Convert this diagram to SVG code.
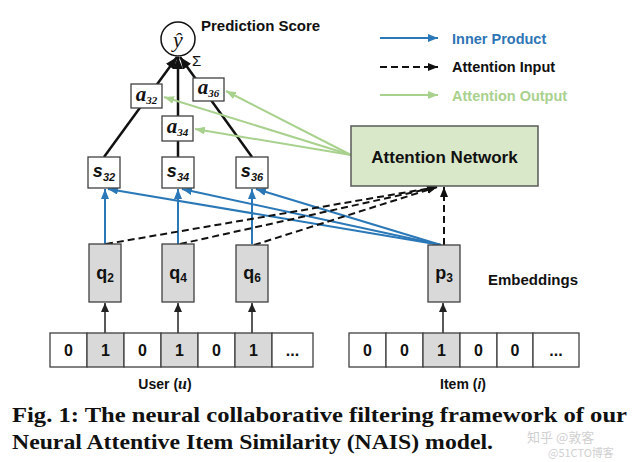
<svg xmlns="http://www.w3.org/2000/svg" width="640" height="462" viewBox="0 0 640 462">
<defs>
<style>
.box{fill:#fff;stroke:#404040;stroke-width:1.3}
.emb{fill:#d9d9d9;stroke:#404040;stroke-width:1.3}
.cell{fill:#fff;stroke:#404040;stroke-width:1.3}
.cellon{fill:#d9d9d9;stroke:#404040;stroke-width:1.3}
.lbl{font-family:"Liberation Sans",Arial,sans-serif;font-weight:bold;fill:#111}
.dig{font-family:"Liberation Sans",Arial,sans-serif;font-weight:bold;font-size:16px;fill:#111;text-anchor:middle}
.sv{font-family:"Liberation Sans",Arial,sans-serif;font-weight:bold;font-style:italic;font-size:18px;fill:#111;text-anchor:middle}
.av{font-family:"Liberation Serif","Times New Roman",serif;font-weight:bold;font-style:italic;font-size:21px;fill:#111;text-anchor:middle}
.qv{font-family:"Liberation Sans",Arial,sans-serif;font-weight:bold;font-size:18px;fill:#111;text-anchor:middle}
.tree{stroke:#111;stroke-width:2.5;fill:none}
.blue{stroke:#2a78b8;stroke-width:2;fill:none}
.dash{stroke:#111;stroke-width:2;stroke-dasharray:7 4;fill:none}
.green{stroke:#a9d18e;stroke-width:2;fill:none}
.thin{stroke:#222;stroke-width:1.5;fill:none}
.cap{font-family:"Liberation Serif","Times New Roman",serif;font-weight:bold;font-size:22px;fill:#111}
</style>
<marker id="mb" markerUnits="userSpaceOnUse" markerWidth="10" markerHeight="8" refX="10" refY="4" orient="auto"><path d="M0,0 L10,4 L0,8 z" fill="#2a78b8"/></marker>
<marker id="mk" markerUnits="userSpaceOnUse" markerWidth="10" markerHeight="8" refX="10" refY="4" orient="auto"><path d="M0,0 L10,4 L0,8 z" fill="#111"/></marker>
<marker id="mg" markerUnits="userSpaceOnUse" markerWidth="10" markerHeight="8" refX="10" refY="4" orient="auto"><path d="M0,0 L10,4 L0,8 z" fill="#a9d18e"/></marker>
<marker id="mt" markerUnits="userSpaceOnUse" markerWidth="9" markerHeight="8" refX="9" refY="4" orient="auto"><path d="M0,0 L9,4 L0,8 z" fill="#222"/></marker>
<marker id="mj" markerUnits="userSpaceOnUse" markerWidth="12" markerHeight="10" refX="12" refY="5" orient="auto"><path d="M0,0 L12,5 L0,10 z" fill="#111"/></marker>
</defs>
<rect width="640" height="462" fill="#fff"/>

<g id="connectors">
  <line class="tree" x1="104" y1="157" x2="177" y2="57" marker-end="url(#mj)"/>
  <line class="tree" x1="178" y1="157" x2="178" y2="57" marker-end="url(#mj)"/>
  <line class="tree" x1="252" y1="157" x2="180" y2="57" marker-end="url(#mj)"/>
  <line class="blue" x1="105" y1="244" x2="105" y2="189" marker-end="url(#mb)"/>
  <line class="blue" x1="178" y1="244" x2="178" y2="189" marker-end="url(#mb)"/>
  <line class="blue" x1="252" y1="244" x2="252" y2="189" marker-end="url(#mb)"/>
  <line class="blue" x1="441" y1="245" x2="108" y2="189" marker-end="url(#mb)"/>
  <line class="blue" x1="441" y1="245" x2="182" y2="189" marker-end="url(#mb)"/>
  <line class="blue" x1="441" y1="245" x2="256" y2="189" marker-end="url(#mb)"/>
  <line class="dash" x1="106" y1="244" x2="437" y2="187" marker-end="url(#mk)"/>
  <line class="dash" x1="180" y1="244" x2="437" y2="187" marker-end="url(#mk)"/>
  <line class="dash" x1="254" y1="245" x2="437" y2="187" marker-end="url(#mk)"/>
  <line class="dash" x1="444" y1="245" x2="444" y2="187" marker-end="url(#mk)"/>
  <line class="green" x1="351" y1="155" x2="164" y2="97" marker-end="url(#mg)"/>
  <line class="green" x1="351" y1="155" x2="195" y2="129" marker-end="url(#mg)"/>
  <line class="green" x1="351" y1="155" x2="226" y2="91" marker-end="url(#mg)"/>
  <line class="thin" x1="105" y1="333" x2="105" y2="303" marker-end="url(#mt)"/>
  <line class="thin" x1="178" y1="333" x2="178" y2="303" marker-end="url(#mt)"/>
  <line class="thin" x1="252" y1="333" x2="252" y2="303" marker-end="url(#mt)"/>
  <line class="thin" x1="443" y1="333" x2="443" y2="303" marker-end="url(#mt)"/>
</g>

<g id="yhat">
  <circle cx="178" cy="39" r="17" fill="#fff" stroke="#111" stroke-width="1.5"/>
  <text x="178" y="47" font-family="'Liberation Serif','Times New Roman',serif" font-style="italic" font-size="22" fill="#111" text-anchor="middle">ŷ</text>
</g>
<g id="sigma"><text x="192" y="66" font-family="'Liberation Sans',Arial,sans-serif" font-size="15" fill="#111">Σ</text></g>
<g id="prediction-label"><text class="lbl" x="201" y="31" font-size="15">Prediction Score</text></g>

<g id="a32"><rect class="box" x="131" y="84" width="31" height="24"/><text class="av" x="146.5" y="101">a<tspan font-size="11" dy="3">32</tspan></text></g>
<g id="a34"><rect class="box" x="162" y="116" width="31" height="25"/><text class="av" x="177.5" y="133">a<tspan font-size="11" dy="3">34</tspan></text></g>
<g id="a36"><rect class="box" x="193" y="78" width="31" height="23"/><text class="av" x="208.5" y="94">a<tspan font-size="11" dy="3">36</tspan></text></g>

<g id="s32"><rect class="box" x="88" y="157" width="32" height="31"/><text class="sv" x="104" y="177">s<tspan font-size="11" dy="4">32</tspan></text></g>
<g id="s34"><rect class="box" x="162" y="157" width="32" height="31"/><text class="sv" x="178" y="177">s<tspan font-size="11" dy="4">34</tspan></text></g>
<g id="s36"><rect class="box" x="236" y="157" width="32" height="31"/><text class="sv" x="252" y="177">s<tspan font-size="11" dy="4">36</tspan></text></g>

<g id="attention-network">
  <rect x="351" y="126" width="187" height="60" fill="#d8e8c8" stroke="#595959" stroke-width="1.5"/>
  <text class="lbl" x="444.5" y="163" font-size="17" text-anchor="middle">Attention Network</text>
</g>

<g id="q2"><rect class="emb" x="89" y="244" width="32" height="58"/><text class="qv" x="105" y="279">q<tspan font-size="12" dy="3">2</tspan></text></g>
<g id="q4"><rect class="emb" x="162" y="244" width="32" height="58"/><text class="qv" x="178" y="279">q<tspan font-size="12" dy="3">4</tspan></text></g>
<g id="q6"><rect class="emb" x="236" y="245" width="32" height="57"/><text class="qv" x="252" y="279">q<tspan font-size="12" dy="3">6</tspan></text></g>
<g id="p3"><rect class="emb" x="428" y="245" width="32" height="57"/><text class="qv" x="444" y="279">p<tspan font-size="12" dy="3">3</tspan></text></g>
<g id="embeddings-label"><text class="lbl" x="488" y="285" font-size="15">Embeddings</text></g>

<g id="user-vector">
  <rect class="cell" x="50" y="333" width="37" height="34"/>
  <rect class="cellon" x="87" y="333" width="37" height="34"/>
  <rect class="cell" x="124" y="333" width="37" height="34"/>
  <rect class="cellon" x="161" y="333" width="37" height="34"/>
  <rect class="cell" x="198" y="333" width="37" height="34"/>
  <rect class="cellon" x="235" y="333" width="37" height="34"/>
  <rect class="cell" x="272" y="333" width="41" height="34"/>
  <text class="dig" x="68.5" y="356">0</text>
  <text class="dig" x="105.5" y="356">1</text>
  <text class="dig" x="142.5" y="356">0</text>
  <text class="dig" x="179.5" y="356">1</text>
  <text class="dig" x="216.5" y="356">0</text>
  <text class="dig" x="253.5" y="356">1</text>
  <text class="dig" x="292.5" y="356">...</text>
  <text class="lbl" x="165" y="389" font-size="14" text-anchor="middle">User (<tspan font-family="'Liberation Serif',serif" font-style="italic" font-size="16">u</tspan>)</text>
</g>

<g id="item-vector">
  <rect class="cell" x="349" y="333" width="37" height="34"/>
  <rect class="cell" x="386" y="333" width="37" height="34"/>
  <rect class="cellon" x="423" y="333" width="37" height="34"/>
  <rect class="cell" x="460" y="333" width="37" height="34"/>
  <rect class="cell" x="497" y="333" width="36" height="34"/>
  <rect class="cell" x="533" y="333" width="46" height="34"/>
  <text class="dig" x="367.5" y="356">0</text>
  <text class="dig" x="404.5" y="356">0</text>
  <text class="dig" x="441.5" y="356">1</text>
  <text class="dig" x="478.5" y="356">0</text>
  <text class="dig" x="515" y="356">0</text>
  <text class="dig" x="556" y="356">...</text>
  <text class="lbl" x="463" y="389" font-size="14" text-anchor="middle">Item (<tspan font-style="italic">i</tspan>)</text>
</g>

<g id="legend">
  <line class="blue" x1="380" y1="38" x2="438" y2="38" marker-end="url(#mb)"/>
  <text class="lbl" x="452" y="44" font-size="14.5" style="fill:#2e75b6">Inner Product</text>
  <line class="dash" x1="380" y1="67" x2="438" y2="67" marker-end="url(#mk)"/>
  <text class="lbl" x="452" y="72" font-size="14.5">Attention Input</text>
  <line class="green" x1="380" y1="95" x2="438" y2="95" marker-end="url(#mg)"/>
  <text class="lbl" x="452" y="101" font-size="14.5" style="fill:#a9d18e">Attention Output</text>
</g>

<g id="caption">
  <text class="cap" x="12" y="422" textLength="615" lengthAdjust="spacingAndGlyphs">Fig. 1: The neural collaborative filtering framework of our</text>
  <text class="cap" x="12" y="449" textLength="481" lengthAdjust="spacingAndGlyphs">Neural Attentive Item Similarity (NAIS) model.</text>
</g>

<g id="watermark" font-family="'Noto Sans CJK SC','Liberation Sans',sans-serif" fill="#d0d0d0">
  <text x="527" y="442" font-size="13">知乎 @敦客</text>
  <text x="548" y="457" font-size="11">@51CTO博客</text>
</g>
</svg>
